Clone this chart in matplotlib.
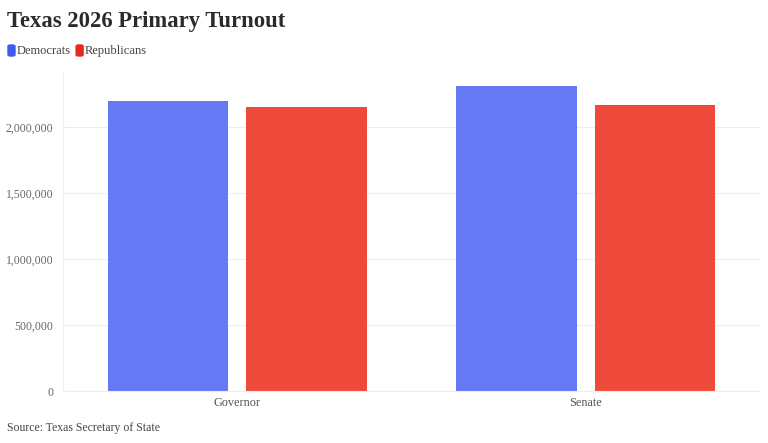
import numpy as np
import matplotlib.pyplot as plt
from matplotlib.patches import FancyBboxPatch

# Данные
races = ["Governor", "Senate"]
democrats = [2199000, 2315000]
republicans = [2154000, 2167000]
yticks = [0, 500000, 1000000, 1500000, 2000000]

blue_bar = "#6479F3"
red_bar = "#EE4A3B"
blue_key = "#3E5CF0"
red_key = "#E8281D"

plt.rcParams['font.family'] = ['Liberation Serif', 'DejaVu Serif']

fig = plt.figure(figsize=(7.68, 4.43), dpi=100)
ax = fig.add_axes([63 / 768, 1 - 391.3 / 443, 697 / 768, 320.3 / 443])

x = np.arange(len(races))
w = 0.345
off = w / 2 + 0.026
ax.bar(x - off, democrats, w, color=blue_bar, zorder=2)
ax.bar(x + off, republicans, w, color=red_bar, zorder=2)

ax.set_xlim(-0.5, 1.5)
ax.set_ylim(0, 2426000)
ax.set_yticks(yticks)
ax.set_yticklabels([f"{v:,}" for v in yticks], fontsize=8.5, color="#666666")
ax.set_xticks(x)
ax.set_xticklabels(races, fontsize=8.8, color="#555555")
ax.tick_params(length=0, pad=7)
ax.tick_params(axis='x', pad=4)
ax.grid(axis='y', color="#eeeeee", linewidth=0.8, zorder=0)
for s in ["top", "right"]:
    ax.spines[s].set_visible(False)
ax.spines["left"].set_color("#eeeeee")
ax.spines["bottom"].set_color("#eeeeee")

# Заголовок
fig.text(7 / 768, 1 - 22 / 443, "Texas 2026 Primary Turnout", fontsize=16.3,
         fontweight="bold", color="#2b2b2b", va="center", ha="left")

# Легенда
renderer = fig.canvas.get_renderer()
px = 8
for col, lab in [(blue_key, "Democrats"), (red_key, "Republicans")]:
    box = FancyBboxPatch((px / 768, 1 - 56 / 443), 7 / 768, 11 / 443,
                         boxstyle="round,pad=0,rounding_size=0.003",
                         transform=fig.transFigure, color=col)
    fig.patches.append(box)
    t = fig.text((px + 9) / 768, 1 - 51 / 443, lab, fontsize=9,
                 color="#444444", va="center", ha="left")
    px = t.get_window_extent(renderer).x1 + 5

fig.text(7 / 768, 1 - 428 / 443, "Source: Texas Secretary of State", fontsize=8.5,
         color="#444444", va="center", ha="left")

fig.savefig("out.png", dpi=100)
